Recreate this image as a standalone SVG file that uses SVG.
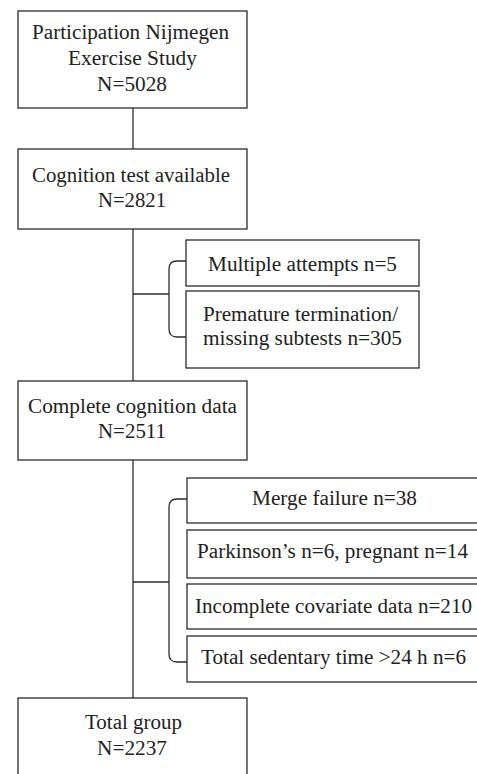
<svg xmlns="http://www.w3.org/2000/svg" width="477" height="774" viewBox="0 0 477 774">
<style>
.box{fill:#fff;stroke:#2b2b2b;stroke-width:1.3}
.ln{fill:none;stroke:#2b2b2b;stroke-width:1.3}
.t{font-family:'Liberation Serif','DejaVu Serif',serif;font-size:20px;fill:#222;text-anchor:middle}
</style>
<rect width="477" height="774" fill="#fff"/>
<g id="connectors">
<path class="ln" d="M133 108V149M133 229V381M133 460V698"/>
<path class="ln" d="M133 294H169"/>
<path class="ln" d="M186 261H177Q169 261 169 269V329Q169 337 177 337H186"/>
<path class="ln" d="M133 582H169"/>
<path class="ln" d="M187 499H177Q169 499 169 507V654Q169 662 177 662H187"/>
</g>
<g class="t">
<g id="n1"><rect class="box" x="18" y="11" width="229" height="97"/>
<text x="130.5" y="39" textLength="197" lengthAdjust="spacingAndGlyphs">Participation Nijmegen</text><text x="132.5" y="65" textLength="129" lengthAdjust="spacingAndGlyphs">Exercise Study</text><text x="132" y="91" textLength="70" lengthAdjust="spacingAndGlyphs">N=5028</text></g>
<g id="n2"><rect class="box" x="18" y="149" width="229" height="80"/>
<text x="131" y="182" textLength="198" lengthAdjust="spacingAndGlyphs">Cognition test available</text><text x="132" y="207" textLength="68" lengthAdjust="spacingAndGlyphs">N=2821</text></g>
<g id="e1"><rect class="box" x="186" y="240" width="233" height="46"/>
<text x="302.5" y="271" textLength="189" lengthAdjust="spacingAndGlyphs">Multiple attempts n=5</text></g>
<g id="e2"><rect class="box" x="186" y="291" width="233" height="77"/>
<text x="300.5" y="321" textLength="195" lengthAdjust="spacingAndGlyphs">Premature termination/</text><text x="302.5" y="345" textLength="199" lengthAdjust="spacingAndGlyphs">missing subtests n=305</text></g>
<g id="n3"><rect class="box" x="18" y="381" width="229" height="79"/>
<text x="132.5" y="413" textLength="209" lengthAdjust="spacingAndGlyphs">Complete cognition data</text><text x="132" y="438" textLength="68" lengthAdjust="spacingAndGlyphs">N=2511</text></g>
<g id="e3"><rect class="box" x="187" y="478" width="292" height="45"/>
<text x="334.5" y="505" textLength="165" lengthAdjust="spacingAndGlyphs">Merge failure n=38</text></g>
<g id="e4"><rect class="box" x="187" y="530" width="292" height="48"/>
<text x="332.5" y="558" textLength="271" lengthAdjust="spacingAndGlyphs">Parkinson’s n=6, pregnant n=14</text></g>
<g id="e5"><rect class="box" x="187" y="584" width="292" height="45"/>
<text x="333.5" y="613" textLength="277" lengthAdjust="spacingAndGlyphs">Incomplete covariate data n=210</text></g>
<g id="e6"><rect class="box" x="187" y="636" width="292" height="46"/>
<text x="333.5" y="664" textLength="265" lengthAdjust="spacingAndGlyphs">Total sedentary time &gt;24 h n=6</text></g>
<g id="n4"><rect class="box" x="18" y="698" width="229" height="90"/>
<text x="133.5" y="729" textLength="97" lengthAdjust="spacingAndGlyphs">Total group</text><text x="132" y="755" textLength="70" lengthAdjust="spacingAndGlyphs">N=2237</text></g>
</g>
</svg>
